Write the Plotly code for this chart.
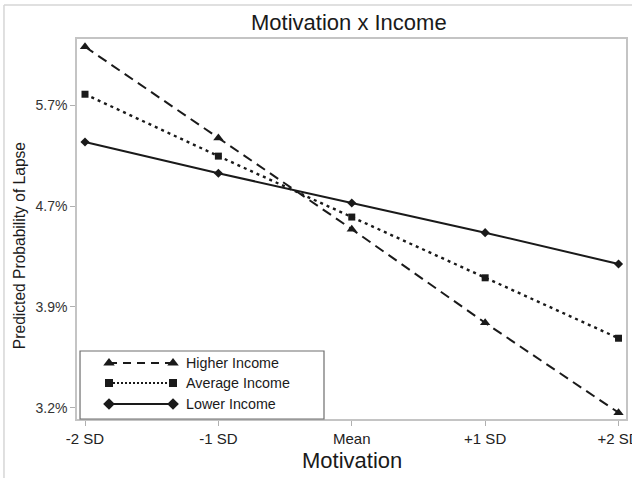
import numpy as np
import plotly.graph_objects as go

# Motivation levels on the x axis
motivation = ["-2 SD", "-1 SD", "Mean", "+1 SD", "+2 SD"]

# Predicted probability of lapse (%) per income group
higher_income = [6.39, 5.39, 4.54, 3.80, 3.20]
average_income = [5.85, 5.21, 4.645, 4.14, 3.69]
lower_income = [5.35, 5.045, 4.77, 4.51, 4.25]

# y axis is on the logit scale, labelled as probabilities
tick_logits = [-3.4, -3.2, -3.0, -2.8]
tick_labels = ["3.2%", "3.9%", "4.7%", "5.7%"]


def logit(pct):
    p = np.asarray(pct, dtype=float) / 100.0
    return np.log(p / (1.0 - p))


FONT = "Liberation Sans, Arial, sans-serif"
INK = "#1a1a1a"

series = [
    ("Higher Income", higher_income, "triangle-up", 9, "10px,6px", 2.0),
    ("Average Income", average_income, "square", 7, "3px,4px", 2.4),
    ("Lower Income", lower_income, "diamond", 7, "solid", 2.0),
]

fig = go.Figure()
for name, vals, sym, msize, dash, lw in series:
    fig.add_trace(go.Scatter(
        x=motivation, y=logit(vals), name=name, mode="lines+markers",
        line=dict(color=INK, width=lw, dash=dash),
        marker=dict(symbol=sym, size=msize, color=INK),
        cliponaxis=False, showlegend=False,
    ))

# Hand-drawn legend: line sample with a marker at both ends
legend_rows = [0.1474, 0.0947, 0.0395]
legend_syms = {"triangle-up": 10, "square": 8, "diamond": 9}
legend_dash = {"10px,6px": "8px,6px", "3px,4px": "2px,2px", "solid": "solid"}
for (name, vals, sym, msize, dash, lw), yy in zip(series, legend_rows):
    fig.add_trace(go.Scatter(
        x=[0.0583, 0.1749], y=[yy, yy], mode="lines+markers",
        xaxis="x2", yaxis="y2",
        line=dict(color=INK, width=2, dash=legend_dash[dash]),
        marker=dict(symbol=sym, size=legend_syms[sym], color=INK),
        showlegend=False, hoverinfo="skip", cliponaxis=False,
    ))
    fig.add_annotation(
        x=0.1949, y=yy, xref="paper", yref="paper", text=name,
        showarrow=False, xanchor="left", yanchor="middle",
        font=dict(family=FONT, size=14.3, color=INK),
    )

fig.add_shape(type="rect", xref="paper", yref="paper",
              x0=0.0055, x1=0.4499, y0=0.0, y1=0.179,
              line=dict(color="#6e6e6e", width=1.2), fillcolor="rgba(0,0,0,0)")

# light outer border along top and left
fig.add_shape(type="line", xref="paper", yref="paper",
              x0=-0.133, x1=-0.133, y0=1.0895, y1=-0.2,
              line=dict(color="#d6d6d6", width=1.5))
fig.add_shape(type="line", xref="paper", yref="paper",
              x0=-0.133, x1=1.05, y0=1.0895, y1=1.0895,
              line=dict(color="#d6d6d6", width=1.5))

# Titles
fig.add_annotation(x=0.496, y=1.0447, xref="paper", yref="paper",
                   text="Motivation x Income", showarrow=False,
                   xanchor="center", yanchor="middle",
                   font=dict(family=FONT, size=22, color=INK))
fig.add_annotation(x=0.501, y=-0.108, xref="paper", yref="paper",
                   text="Motivation", showarrow=False,
                   xanchor="center", yanchor="middle",
                   font=dict(family=FONT, size=22, color=INK))
fig.add_annotation(x=-0.1056, y=0.455, xref="paper", yref="paper",
                   text="Predicted Probability of Lapse", showarrow=False,
                   textangle=-90, xanchor="center", yanchor="middle",
                   font=dict(family=FONT, size=15.6, color=INK))

axis_common = dict(showline=True, mirror=True, linecolor="#c4c4c4", linewidth=1.5,
                   ticks="outside", ticklen=5, tickcolor="#b0b0b0", tickwidth=1,
                   showgrid=False, zeroline=False, automargin=False)

fig.update_layout(
    width=632, height=478,
    margin=dict(l=77, r=6, t=39, b=59),
    paper_bgcolor="white", plot_bgcolor="white",
    font=dict(family=FONT, color="#222"),
    xaxis=dict(type="category", range=[-0.06, 4.056],
               tickfont=dict(family=FONT, size=15, color="#222"), **axis_common),
    yaxis=dict(range=[-3.422, -2.669], tickvals=tick_logits, ticktext=tick_labels,
               tickfont=dict(family=FONT, size=14, color="#333"), **axis_common),
    xaxis2=dict(overlaying="x", range=[0, 1], visible=False, domain=[0, 1]),
    yaxis2=dict(overlaying="y", range=[0, 1], visible=False),
    showlegend=False,
)

fig.write_html("out.html")
